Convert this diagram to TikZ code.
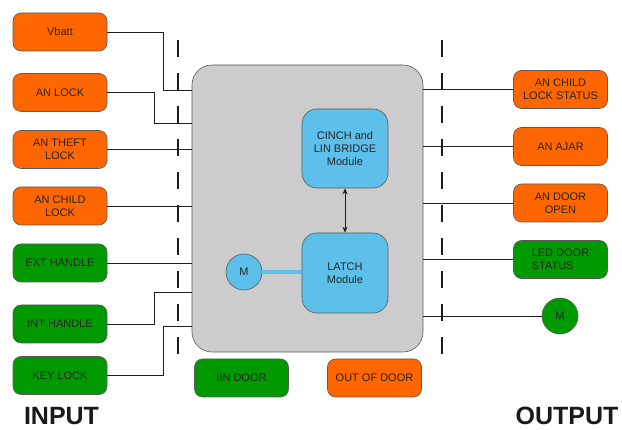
\documentclass[tikz,border=0pt]{standalone}
\usepackage{fontspec}
\setmainfont{Liberation Sans}
\usetikzlibrary{arrows.meta}
\definecolor{orangebox}{RGB}{255,102,0}
\definecolor{greenbox}{RGB}{0,153,0}
\definecolor{bluebox}{RGB}{92,192,234}
\definecolor{graybox}{RGB}{204,204,204}
\definecolor{edgecol}{RGB}{90,90,90}
\definecolor{linecol}{RGB}{30,30,30}
\tikzset{
  sigbox/.style={draw=edgecol, line width=0.6pt, rounded corners=8pt, minimum width=94pt, minimum height=38pt, inner sep=1pt, align=center, font=\fontsize{11}{13}\selectfont, text=black!85},
  orbox/.style={sigbox, fill=orangebox},
  grbox/.style={sigbox, fill=greenbox},
  modbox/.style={draw=edgecol, line width=0.6pt, fill=bluebox, rounded corners=15pt, minimum width=86pt, minimum height=80pt, align=center, font=\fontsize{11}{13}\selectfont, text=black!85},
  motor/.style={circle, draw=edgecol, line width=0.6pt, minimum size=36pt, inner sep=0pt, font=\fontsize{11}{13}\selectfont, text=black!85},
  wire/.style={draw=linecol, line width=0.9pt},
  sep/.style={draw=linecol, line width=1.3pt, dash pattern=on 17pt off 16pt},
  bigtitle/.style={font=\fontsize{25}{28}\selectfont\bfseries, text=black!90, inner sep=0pt}
}
\begin{document}
\begin{tikzpicture}[x=1pt, y=-1pt]
\useasboundingbox (0,0) rectangle (622,430);
% separators
\draw[sep] (178,40) -- (178,365);
\draw[sep] (442,40) -- (442,365);
% main box
\node[draw=edgecol, line width=0.6pt, fill=graybox, rounded corners=20pt, minimum width=231pt, minimum height=287pt] (main) at (307.5,208.5) {};
% inputs
\node[orbox] (vb) at (60,32) {Vbatt};
\node[orbox] (anl) at (60,92.5) {AN LOCK};
\node[orbox] (ant) at (60,149.5) {AN THEFT\\LOCK};
\node[orbox] (anc) at (60,206) {AN CHILD\\LOCK};
\node[grbox] (ext) at (60,263) {EXT HANDLE};
\node[grbox] (int) at (60,324) {INT HANDLE};
\node[grbox] (key) at (60,375.5) {KEY LOCK};
% outputs
\node[orbox] (ocs) at (560.5,89.5) {AN CHILD\\LOCK STATUS};
\node[orbox] (oaj) at (560.5,146.5) {AN AJAR};
\node[orbox] (odo) at (560.5,203) {AN DOOR\\OPEN};
\node[grbox, align=left] (oled) at (560.5,259.5) {LED DOOR\\STATUS};
\node[motor, fill=greenbox] (om) at (560,316) {M};
% bottom
\node[grbox] (iin) at (241.5,378) {IIN DOOR};
\node[orbox] (out) at (374.5,378) {OUT OF DOOR};
% inner modules
\node[modbox, minimum height=79pt] (cinch) at (345,148.5) {CINCH and\\LIN BRIDGE\\Module};
\node[modbox] (latch) at (345,273) {LATCH\\Module};
\node[motor, fill=bluebox] (im) at (244,272) {M};
\draw[draw=edgecol, line width=0.5pt, double=bluebox, double distance=3.5pt] (im.east) -- (latch.west|-im.east);
\draw[linecol, line width=1pt, {Stealth[length=6pt,width=5pt]}-{Stealth[length=6pt,width=5pt]}] (cinch.south) -- (latch.north);
% input wires
\draw[wire] (vb.east) -- (163,32) -- (163,90) -- (main.west|-0,90);
\draw[wire] (anl.east) -- (154,92.5) -- (154,123) -- (main.west|-0,123);
\draw[wire] (ant.east) -- (main.west|-ant.east);
\draw[wire] (anc.east) -- (main.west|-anc.east);
\draw[wire] (ext.east) -- (main.west|-ext.east);
\draw[wire] (int.east) -- (154,324) -- (154,292) -- (main.west|-0,292);
\draw[wire] (key.east) -- (163,375.5) -- (163,326) -- (main.west|-0,326);
% output wires
\draw[wire] (main.east|-ocs.west) -- (ocs.west);
\draw[wire] (main.east|-oaj.west) -- (oaj.west);
\draw[wire] (main.east|-odo.west) -- (odo.west);
\draw[wire] (main.east|-oled.west) -- (oled.west);
\draw[wire] (main.east|-om.west) -- (om.west);
% titles
\node[bigtitle] (tin) at (61.5,416) {INPUT};
\node[bigtitle] (tout) at (567,416) {OUTPUT};
\end{tikzpicture}
\end{document}
